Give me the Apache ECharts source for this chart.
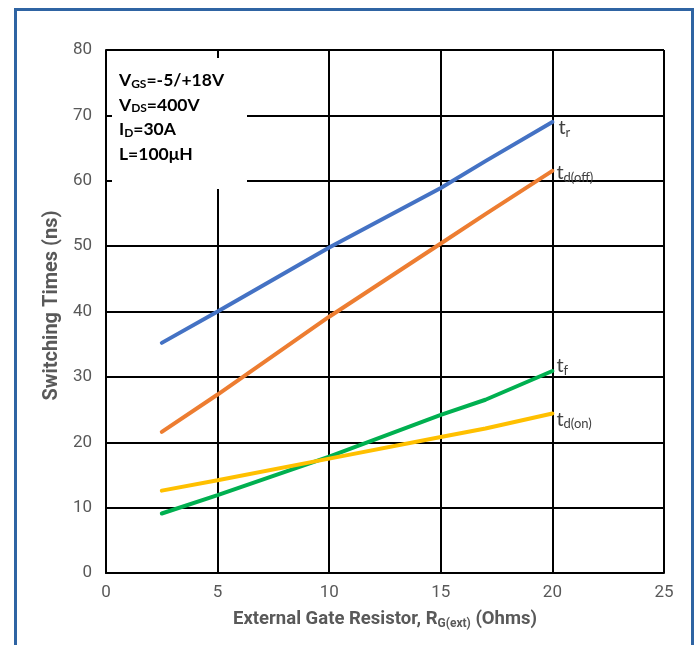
<!DOCTYPE html>
<html>
<head>
<meta charset="utf-8">
<script src="https://cdn.jsdelivr.net/npm/echarts@6/dist/echarts.min.js"></script>
<style>html,body{margin:0;padding:0;background:#fff}#c{width:697px;height:645px}</style>
</head>
<body>
<div id="c"></div>
<script>
const rg = [2.5, 5, 10, 15, 17, 20];
const tr = [35.2, 40.0, 49.8, 58.9, 63.0, 69.0];
const tdOff = [21.6, 27.3, 39.2, 50.4, 54.9, 61.5];
const tf = [9.1, 11.9, 17.8, 24.2, 26.5, 30.9];
const tdOn = [12.6, 14.2, 17.5, 20.8, 22.1, 24.4];
const xTicks = [0, 5, 10, 15, 20, 25];
const yTicks = [0, 10, 20, 30, 40, 50, 60, 70, 80];

const chart = echarts.init(document.getElementById('c'), null, {renderer: 'canvas'});
const tickFont = "'Liberation Sans Narrow', 'Roboto', sans-serif";
const labRich = {
  t: {fontSize: 20, color: '#404040', fontFamily: 'Lato, sans-serif'},
  s: {fontSize: 13, color: '#404040', fontFamily: 'Lato, sans-serif', padding: [9, 0, 0, 0]}
};
function mk(name, vals, color, sub, offset) {
  return {
    name: name, type: 'line', data: rg.map((x, i) => [x, vals[i]]),
    showSymbol: false, symbol: 'none', smooth: false,
    lineStyle: {color: color, width: 4, cap: 'round'},
    itemStyle: {color: color},
    endLabel: {show: true, formatter: '{t|t}{s|' + sub + '}', rich: labRich, offset: offset, distance: 4},
    z: 5
  };
}
const boxRich = {
  m: {fontSize: 17.5, fontWeight: 'bold', color: '#000', fontFamily: 'Lato, sans-serif', lineHeight: 24.5},
  s: {fontSize: 12, fontWeight: 'bold', color: '#000', fontFamily: 'Lato, sans-serif', lineHeight: 24.5, padding: [7, 0, 0, 0]}
};
chart.setOption({
  animation: false,
  backgroundColor: '#ffffff',
  grid: {left: 106, right: 33, top: 50, bottom: 72, containLabel: false},
  xAxis: {
    type: 'value', min: 0, max: 25, interval: 5,
    axisLine: {show: true, lineStyle: {color: '#000', width: 2}},
    axisTick: {show: false},
    splitLine: {show: true, lineStyle: {color: '#000', width: 2}},
    axisLabel: {color: '#595959', fontSize: 17, fontFamily: tickFont, margin: 11,
      formatter: v => xTicks.includes(v) ? String(v) : ''},
    name: '{m|External Gate Resistor, R}{s|G(ext)}{m| (Ohms)}',
    nameLocation: 'middle', nameGap: 36,
    nameTextStyle: {rich: {
      m: {fontSize: 18.5, fontWeight: 'bold', color: '#595959', fontFamily: tickFont},
      s: {fontSize: 12, fontWeight: 'bold', color: '#595959', fontFamily: tickFont, padding: [9, 0, 0, 0]}
    }}
  },
  yAxis: {
    type: 'value', min: 0, max: 80, interval: 10,
    axisLine: {show: true, lineStyle: {color: '#000', width: 2}},
    axisTick: {show: false},
    splitLine: {show: true, lineStyle: {color: '#000', width: 2}},
    axisLabel: {color: '#595959', fontSize: 17, fontFamily: tickFont, margin: 14,
      formatter: v => yTicks.includes(v) ? String(v) : ''},
    name: 'Switching Times (ns)', nameLocation: 'middle', nameGap: 44,
    nameTextStyle: {fontSize: 20, fontWeight: 'bold', color: '#595959', fontFamily: tickFont, padding: [0, 0, 0, 12]}
  },
  series: [
    mk('tr', tr, '#4472C4', 'r', [2, 6]),
    mk('td(off)', tdOff, '#ED7D31', 'd(off)', [0, 2]),
    mk('tf', tf, '#00B050', 'f', [0, -5]),
    mk('td(on)', tdOn, '#FFC000', 'd(on)', [0, 6])
  ],
  graphic: [
    {type: 'rect', shape: {x: 112, y: 58, width: 135, height: 131}, style: {fill: '#ffffff'}, z: 10},
    {type: 'text', left: 119, top: 71, z: 11, style: {
      text: '{m|V}{s|GS}{m|=-5/+18V}\n{m|V}{s|DS}{m|=400V}\n{m|I}{s|D}{m|=30A}\n{m|L=100μH}',
      rich: boxRich}},
    {type: 'rect', shape: {x: 15.5, y: 9.5, width: 677, height: 700}, style: {fill: 'none', stroke: '#2F64A3', lineWidth: 3}, z: 20}
  ]
});
</script>
</body>
</html>
